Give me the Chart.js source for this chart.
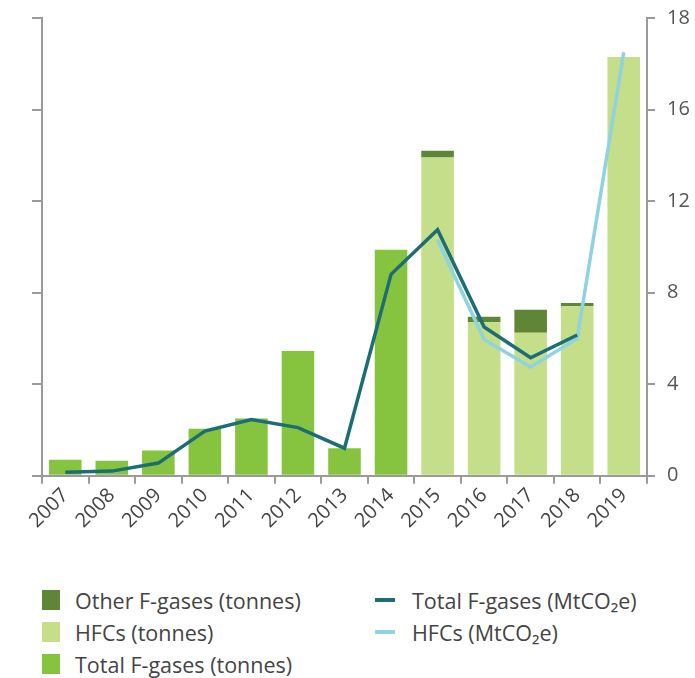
<!DOCTYPE html>
<html>
<head>
<meta charset="utf-8">
<script src="https://cdn.jsdelivr.net/npm/chart.js@4.4.0/dist/chart.umd.min.js"></script>
<style>
  body { margin: 0; background: #fff; font-family: "Open Sans", sans-serif; }
  #wrap { position: relative; width: 695px; height: 533px; }
  #legend { position: absolute; left: 0; top: 585px; width: 695px; font-size: 21.5px; color: #444; }
  .item { position: absolute; display: flex; align-items: center; white-space: nowrap; height: 30px; }
  .box { width: 18px; height: 20px; margin-right: 15px; }
  .dash { width: 20px; height: 4px; margin-right: 17px; }
</style>
</head>
<body>
<div id="wrap"><canvas id="chart" width="695" height="533"></canvas></div>
<div id="legend"></div>
<script>
const years = ['2007', '2008', '2009', '2010', '2011', '2012', '2013', '2014', '2015', '2016', '2017', '2018', '2019'];
const totalTonnes = [0.7, 0.65, 1.1, 2.05, 2.5, 5.45, 1.2, 9.87, null, null, null, null, null];
const hfcTonnes = [null, null, null, null, null, null, null, null, 13.9, 6.7, 6.25, 7.4, 18.3];
const otherTonnes = [null, null, null, null, null, null, null, null, 0.3, 0.25, 1.0, 0.15, null];
const totalCO2 = [0.15, 0.2, 0.55, 1.95, 2.45, 2.1, 1.2, 8.8, 10.75, 6.5, 5.15, 6.15, null];
const hfcCO2 = [null, null, null, null, null, null, null, null, 10.3, 5.95, 4.75, 6.0, 18.5];
const rightTicks = ['0', '4', '8', '12', '16', '18'];

const axisGrey = '#9a9a9a';
const tickFont = { family: 'Open Sans', size: 20 };

const chart = new Chart(document.getElementById('chart'), {
  type: 'bar',
  data: {
    labels: years,
    datasets: [
      { type: 'line', label: 'Total F-gases (MtCO₂e)', data: totalCO2, yAxisID: 'y1',
        borderColor: '#1d6d74', borderWidth: 3.5, pointRadius: 0, tension: 0, order: 0, col: 2 },
      { type: 'line', label: 'HFCs (MtCO₂e)', data: hfcCO2, yAxisID: 'y1',
        borderColor: '#8fd2e0', borderWidth: 3.5, pointRadius: 0, tension: 0, order: 1, col: 2 },
      { label: 'Other F-gases (tonnes)', data: otherTonnes, backgroundColor: '#5f8636', order: 3, col: 1 },
      { label: 'HFCs (tonnes)', data: hfcTonnes, backgroundColor: '#c4de89', order: 2, col: 1 },
      { label: 'Total F-gases (tonnes)', data: totalTonnes, backgroundColor: '#86c440', order: 4, col: 1 }
    ]
  },
  options: {
    responsive: false,
    animation: false,
    layout: { padding: { left: 32, right: 5, top: 18, bottom: 0 } },
    datasets: { bar: { barPercentage: 0.7, categoryPercentage: 1, stack: 'tonnes' } },
    plugins: { legend: { display: false }, tooltip: { enabled: false } },
    scales: {
      x: {
        stacked: true,
        border: { color: axisGrey, width: 2 },
        grid: { drawOnChartArea: false, color: axisGrey, lineWidth: 2, tickLength: 8 },
        ticks: { color: '#444', font: tickFont, maxRotation: 45, minRotation: 45, padding: 0 }
      },
      y: {
        stacked: true,
        position: 'left',
        min: 0, max: 20,
        border: { color: axisGrey, width: 2 },
        grid: { drawOnChartArea: false, color: axisGrey, lineWidth: 2, tickLength: 10 },
        ticks: { stepSize: 4, display: false }
      },
      y1: {
        position: 'right',
        min: 0, max: 20,
        border: { color: axisGrey, width: 2 },
        grid: { drawOnChartArea: false, color: axisGrey, lineWidth: 2, tickLength: 8 },
        ticks: { stepSize: 4, color: '#555', font: tickFont, padding: 12,
          callback: (v, i) => rightTicks[i] },
        afterFit: s => { s.width = 43; s.paddingTop = 0; s.paddingBottom = 0; }
      }
    }
  }
});

// two-column legend like the original
const legend = document.getElementById('legend');
const col1 = chart.data.datasets.filter(d => d.col === 1);
const col2 = chart.data.datasets.filter(d => d.col === 2);
col1.forEach((d, i) => {
  const el = document.createElement('div');
  el.className = 'item';
  el.style.left = '42px';
  el.style.top = (i * 32) + 'px';
  el.innerHTML = '<span class="box" style="background:' + d.backgroundColor + '"></span><span>' + d.label + '</span>';
  legend.appendChild(el);
});
col2.forEach((d, i) => {
  const el = document.createElement('div');
  el.className = 'item';
  el.style.left = '375px';
  el.style.top = (i * 32) + 'px';
  el.innerHTML = '<span class="dash" style="background:' + d.borderColor + '"></span><span>' + d.label + '</span>';
  legend.appendChild(el);
});
</script>
</body>
</html>
